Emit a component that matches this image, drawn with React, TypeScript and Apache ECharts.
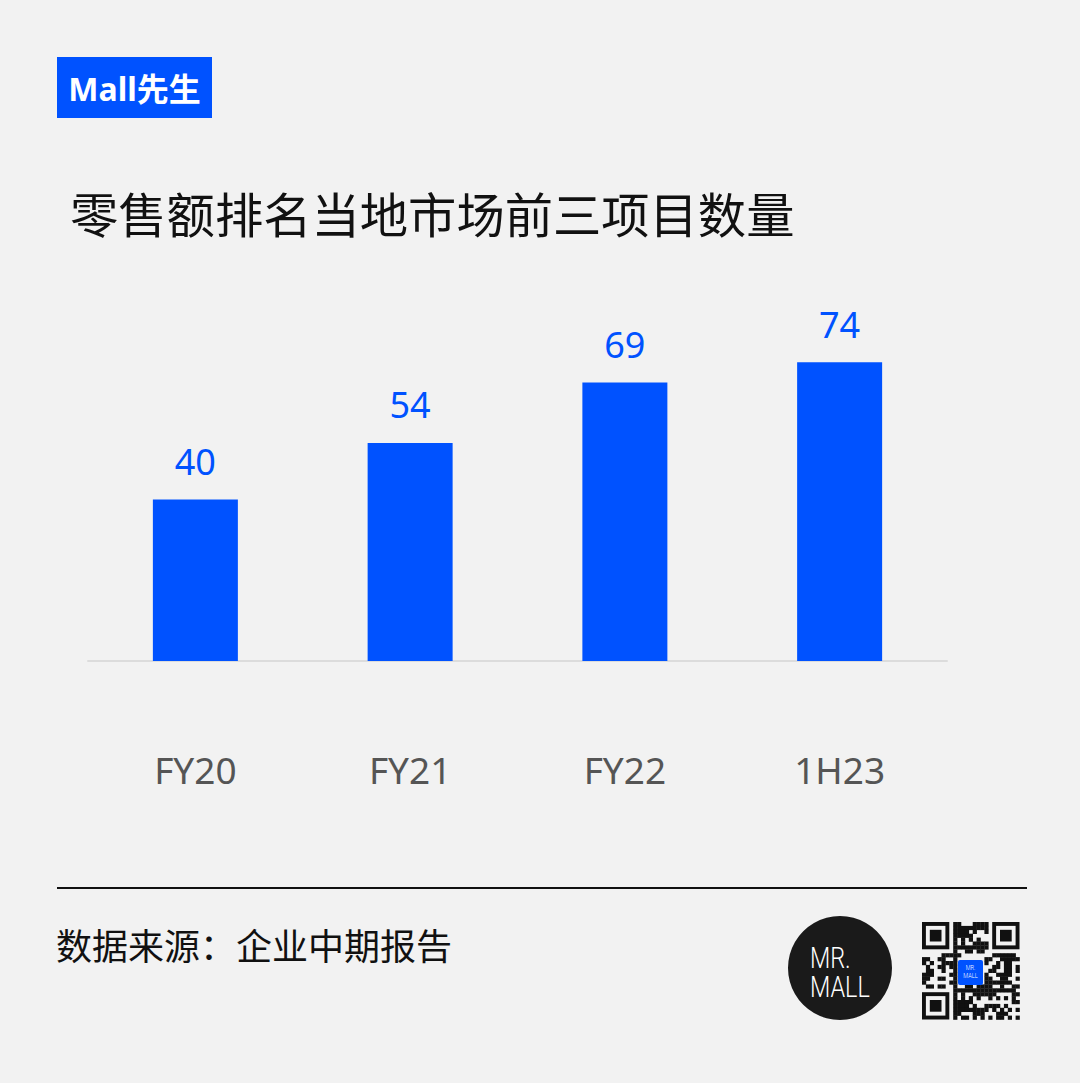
import React, { useEffect, useRef } from "react";
import * as echarts from "echarts";

const categories = ["FY20", "FY21", "FY22", "1H23"];
const values = [40, 54, 69, 74];

const titleText = "零售额排名当地市场前三项目数量";
const sourceText = "数据来源：企业中期报告";
const brandText = "Mall先生";

const BLUE = "#0052ff";
const FONT = "'Noto Sans', 'Noto Sans CJK SC', sans-serif";

function qrElements() {
  const n = 25;
  const cell = 3.9;
  const ox = 922;
  const oy = 922;
  const els: any[] = [];
  const inFinder = (r: number, c: number) =>
    (r < 8 && c < 8) || (r < 8 && c > n - 9) || (r > n - 9 && c < 8);
  const finder = (r0: number, c0: number) => {
    els.push({ type: "rect", shape: { x: ox + c0 * cell, y: oy + r0 * cell, width: 7 * cell, height: 7 * cell }, style: { fill: "#111" } });
    els.push({ type: "rect", shape: { x: ox + (c0 + 1) * cell, y: oy + (r0 + 1) * cell, width: 5 * cell, height: 5 * cell }, style: { fill: "#f2f2f2" } });
    els.push({ type: "rect", shape: { x: ox + (c0 + 2) * cell, y: oy + (r0 + 2) * cell, width: 3 * cell, height: 3 * cell }, style: { fill: "#111" } });
  };
  finder(0, 0);
  finder(0, n - 7);
  finder(n - 7, 0);
  for (let r = 0; r < n; r++) {
    for (let c = 0; c < n; c++) {
      if (inFinder(r, c)) continue;
      if (r >= 9 && r <= 15 && c >= 9 && c <= 15) continue;
      const h = (r * 37 + c * 23 + r * c * 11 + ((r ^ c) * 5)) % 13;
      if (h < 7) {
        els.push({ type: "rect", shape: { x: ox + c * cell, y: oy + r * cell, width: cell + 0.3, height: cell + 0.3 }, style: { fill: "#111" } });
      }
    }
  }
  els.push({ type: "rect", shape: { x: 958, y: 960, width: 25, height: 25, r: 2 }, style: { fill: BLUE } });
  els.push({ type: "text", x: 970.5, y: 968, scaleX: 0.8, style: { x: 0, y: 0, text: "MR.", fill: "#fff", font: "300 7px Roboto, sans-serif", align: "center", verticalAlign: "middle" } });
  els.push({ type: "text", x: 970.5, y: 976, scaleX: 0.8, style: { x: 0, y: 0, text: "MALL", fill: "#fff", font: "300 7px Roboto, sans-serif", align: "center", verticalAlign: "middle" } });
  return els;
}

export default function App() {
  const ref = useRef<HTMLDivElement>(null);
  useEffect(() => {
    document.body.style.margin = "0";
    const chart = echarts.init(ref.current!, null, { renderer: "svg" });
    chart.setOption({
      animation: false,
      backgroundColor: "#f2f2f2",
      grid: { left: 88, right: 133, top: 338, bottom: 422, containLabel: false },
      xAxis: {
        type: "category",
        data: categories,
        axisLine: { lineStyle: { color: "#dcdcdc", width: 2 } },
        axisTick: { show: false },
        axisLabel: { color: "#555", fontSize: 37, fontFamily: FONT, margin: 90 },
      },
      yAxis: { type: "value", min: 0, max: 80, show: false, splitLine: { show: false } },
      series: [
        {
          type: "bar",
          data: values,
          barWidth: 85,
          itemStyle: { color: BLUE },
          label: { show: true, position: "top", distance: 20, color: BLUE, fontSize: 36, fontFamily: FONT },
        },
      ],
      graphic: [
        { type: "rect", shape: { x: 57, y: 57, width: 155, height: 61 }, style: { fill: BLUE } },
        { type: "text", style: { x: 134.5, y: 88, text: brandText, fill: "#fff", font: `bold 32px ${FONT}`, align: "center", verticalAlign: "middle" } },
        { type: "text", style: { x: 70, y: 214, text: titleText, fill: "#111", font: `48.3px ${FONT}`, verticalAlign: "middle" } },
        { type: "line", shape: { x1: 57, y1: 888, x2: 1027, y2: 888 }, style: { stroke: "#111", lineWidth: 2 } },
        { type: "text", style: { x: 56, y: 946, text: sourceText, fill: "#111", font: `36px ${FONT}`, verticalAlign: "middle" } },
        { type: "circle", shape: { cx: 840, cy: 968, r: 52 }, style: { fill: "#1a1a1a" } },
        { type: "text", x: 810, y: 958, scaleX: 0.78, style: { x: 0, y: 0, text: "MR.", fill: "#fff", font: "300 30px Roboto, sans-serif", align: "left", verticalAlign: "middle" } },
        { type: "text", x: 810, y: 987, scaleX: 0.78, style: { x: 0, y: 0, text: "MALL", fill: "#fff", font: "300 30px Roboto, sans-serif", align: "left", verticalAlign: "middle" } },
        { type: "group", children: qrElements() },
      ],
    });
    return () => chart.dispose();
  }, []);
  return <div ref={ref} style={{ position: "absolute", left: 0, top: 0, width: 1080, height: 1083 }} />;
}
